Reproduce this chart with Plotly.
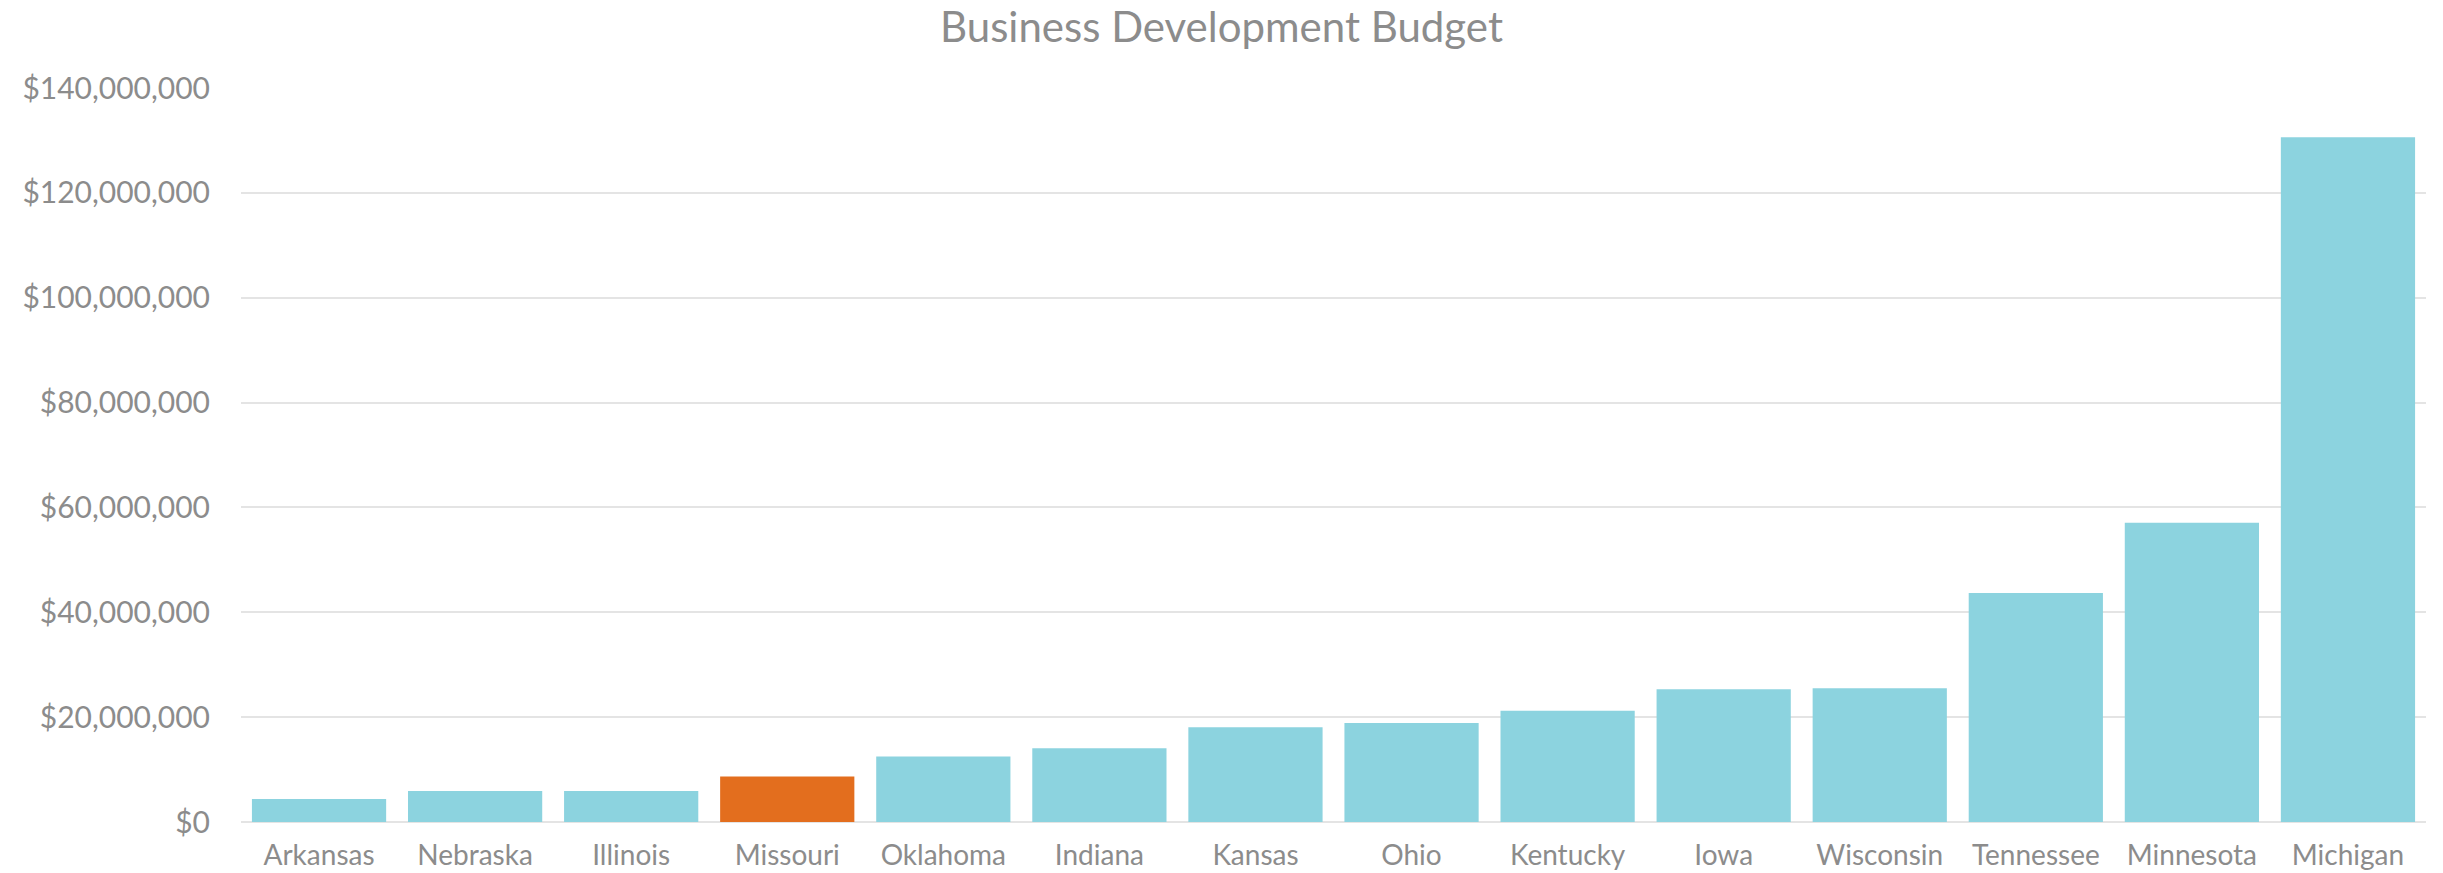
import plotly.graph_objects as go

# Business development budget by state (USD)
states = ["Arkansas", "Nebraska", "Illinois", "Missouri", "Oklahoma", "Indiana",
          "Kansas", "Ohio", "Kentucky", "Iowa", "Wisconsin", "Tennessee",
          "Minnesota", "Michigan"]
budgets = [4400000, 5900000, 5900000, 8700000, 12500000, 14050000,
           18050000, 18900000, 21200000, 25300000, 25500000, 43700000,
           57100000, 130600000]
highlight_state = "Missouri"

y_ticks = [0, 20000000, 40000000, 60000000, 80000000, 100000000, 120000000, 140000000]

BASE_COLOR = "#8CD3DF"
HIGHLIGHT_COLOR = "#E36E1E"
TEXT_COLOR = "#8C8C8C"
GRID_COLOR = "#E4E4E4"
FONT = "Lato, 'Open Sans', sans-serif"

colors = [HIGHLIGHT_COLOR if s == highlight_state else BASE_COLOR for s in states]

fig = go.Figure(
    go.Bar(
        x=states,
        y=budgets,
        marker=dict(color=colors, line=dict(width=0)),
        hovertemplate="%{x}: $%{y:,.0f}<extra></extra>",
    )
)

fig.update_layout(
    width=2443,
    height=873,
    margin=dict(l=241, r=17, t=88, b=51),
    paper_bgcolor="white",
    plot_bgcolor="white",
    bargap=0.14,
    showlegend=False,
    font=dict(family=FONT, color=TEXT_COLOR),
    title=dict(
        text="Business Development Budget",
        x=0.5,
        xanchor="center",
        y=1 - 27 / 873,
        yanchor="middle",
        font=dict(family=FONT, size=42, color=TEXT_COLOR),
    ),
)

fig.update_xaxes(
    automargin=False,
    showgrid=False,
    showline=False,
    ticks="",
    tickfont=dict(family=FONT, size=28, color=TEXT_COLOR),
    ticklabelstandoff=14,
)

fig.update_yaxes(
    automargin=False,
    range=[0, 140000000],
    tickvals=y_ticks,
    tickformat="$,.0f",
    showgrid=True,
    gridcolor=GRID_COLOR,
    gridwidth=1.6,
    zeroline=True,
    zerolinecolor=GRID_COLOR,
    zerolinewidth=1.6,
    showline=False,
    ticks="",
    tickfont=dict(family=FONT, size=30, color=TEXT_COLOR),
    ticklabelstandoff=30,
)

fig.write_html("out.html")
